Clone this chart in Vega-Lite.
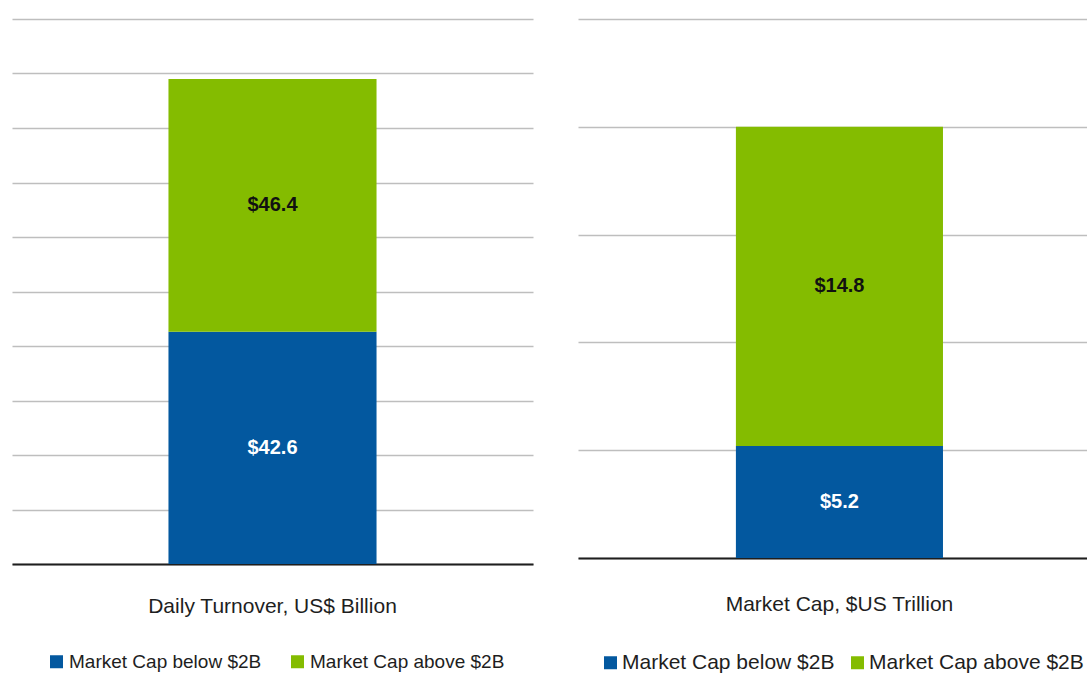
{
  "$schema": "https://vega.github.io/schema/vega-lite/v6.json",
  "padding": {"left": 12, "top": 19, "right": 0, "bottom": 0},
  "spacing": 45,
  "bounds": "flush",
  "background": "white",
  "config": {
    "view": {"stroke": null},
    "font": "Liberation Sans, Arial, sans-serif",
    "axisY": {"grid": true, "gridColor": "#BEBEBE", "gridWidth": 1.5, "labels": false, "ticks": false, "domain": false, "title": null},
    "axisX": {"grid": false, "ticks": false, "domain": true, "domainColor": "#1e1e1e", "domainWidth": 2, "labelAngle": 0, "labelColor": "#1e1e1e", "labelFontSize": 21, "labelFont": "Liberation Sans, Arial, sans-serif", "title": null, "labelLimit": 600},
    "legend": {"symbolType": "square", "symbolSize": 169, "symbolStrokeWidth": 0, "labelColor": "#1e1e1e", "labelOffset": 0, "padding": 0, "labelLimit": 400, "labelFont": "Liberation Sans, Arial, sans-serif"}
  },
  "resolve": {"scale": {"color": "independent", "y": "independent"}, "legend": {"color": "independent"}},
  "hconcat": [
    {
      "width": 521,
      "height": 545,
      "data": {"values": [
        {"metric": "Daily Turnover, US$ Billion", "segment": "Market Cap below $2B", "value": 42.6},
        {"metric": "Daily Turnover, US$ Billion", "segment": "Market Cap above $2B", "value": 46.4}
      ]},
      "encoding": {
        "x": {"field": "metric", "type": "nominal", "scale": {"paddingInner": 0, "paddingOuter": 0.752}, "axis": {"labelPadding": 31}}
      },
      "layer": [
        {
          "mark": {"type": "bar"},
          "encoding": {
            "y": {"field": "value", "type": "quantitative", "stack": "zero", "scale": {"domain": [0, 100], "nice": false}, "axis": {"values": [0, 10, 20, 30, 40, 50, 60, 70, 80, 90, 100]}},
            "color": {"field": "segment", "type": "nominal", "scale": {"domain": ["Market Cap below $2B", "Market Cap above $2B"], "range": ["#03589F", "#84BC00"]},
              "legend": {"title": null, "orient": "none", "direction": "horizontal", "legendX": 35, "legendY": 633, "labelFontSize": 19, "labelOffset": 3, "columnPadding": 26}},
            "order": {"field": "segment", "type": "ordinal", "sort": "descending"}
          }
        },
        {
          "transform": [
            {"stack": "value", "groupby": ["metric"], "sort": [{"field": "segment", "order": "descending"}], "as": ["y0", "y1"]},
            {"fold": ["y0", "y1"], "as": ["k", "v"]}
          ],
          "mark": {"type": "text", "fontSize": 20, "fontWeight": "bold", "baseline": "middle", "align": "center"},
          "encoding": {
            "y": {"aggregate": "mean", "field": "v", "type": "quantitative"},
            "detail": {"field": "segment", "type": "nominal"},
            "text": {"aggregate": "max", "field": "value", "type": "quantitative", "format": "$.1f"},
            "color": {"condition": {"test": "datum.segment == 'Market Cap below $2B'", "value": "white"}, "value": "#111111"}
          }
        }
      ]
    },
    {
      "width": 509,
      "height": 539,
      "data": {"values": [
        {"metric": "Market Cap, $US Trillion", "segment": "Market Cap below $2B", "value": 5.2},
        {"metric": "Market Cap, $US Trillion", "segment": "Market Cap above $2B", "value": 14.8}
      ]},
      "encoding": {
        "x": {"field": "metric", "type": "nominal", "scale": {"paddingInner": 0, "paddingOuter": 0.729, "align": 0.523}, "axis": {"labelPadding": 35}}
      },
      "layer": [
        {
          "mark": {"type": "bar"},
          "encoding": {
            "y": {"field": "value", "type": "quantitative", "stack": "zero", "scale": {"domain": [0, 25], "nice": false}, "axis": {"values": [0, 5, 10, 15, 20, 25]}},
            "color": {"field": "segment", "type": "nominal", "scale": {"domain": ["Market Cap below $2B", "Market Cap above $2B"], "range": ["#03589F", "#84BC00"]},
              "legend": {"title": null, "orient": "none", "direction": "horizontal", "legendX": 22, "legendY": 633, "labelFontSize": 21, "labelOffset": 1, "columnPadding": 12}},
            "order": {"field": "segment", "type": "ordinal", "sort": "descending"}
          }
        },
        {
          "transform": [
            {"stack": "value", "groupby": ["metric"], "sort": [{"field": "segment", "order": "descending"}], "as": ["y0", "y1"]},
            {"fold": ["y0", "y1"], "as": ["k", "v"]}
          ],
          "mark": {"type": "text", "fontSize": 20, "fontWeight": "bold", "baseline": "middle", "align": "center"},
          "encoding": {
            "y": {"aggregate": "mean", "field": "v", "type": "quantitative"},
            "detail": {"field": "segment", "type": "nominal"},
            "text": {"aggregate": "max", "field": "value", "type": "quantitative", "format": "$.1f"},
            "color": {"condition": {"test": "datum.segment == 'Market Cap below $2B'", "value": "white"}, "value": "#111111"}
          }
        }
      ]
    }
  ]
}
